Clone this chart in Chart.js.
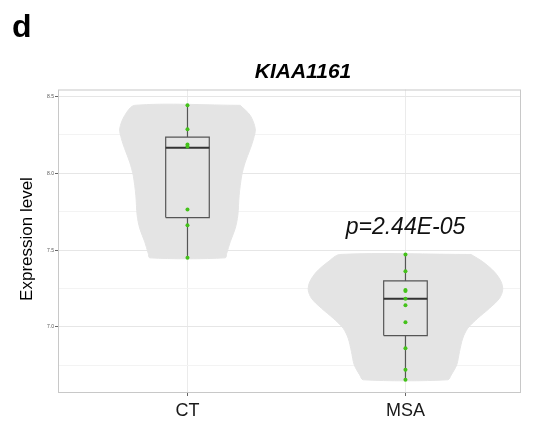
<!DOCTYPE html>
<html>
<head>
<meta charset="utf-8">
<script src="https://cdn.jsdelivr.net/npm/chart.js@4.4.1/dist/chart.umd.min.js"></script>
<style>
  html, body { margin: 0; padding: 0; background: #fff; }
  #wrap { position: relative; width: 537px; height: 423px; }
  #panel { position: absolute; left: 12px; top: 8px; font: bold 32px "Liberation Sans", Arial, sans-serif; color: #000; }
</style>
</head>
<body>
<div id="wrap">
  <canvas id="chart" width="537" height="423"></canvas>
  <div id="panel">d</div>
</div>
<script>
const categories = ['CT', 'MSA'];
const chartTitle = 'KIAA1161';
const yTitle = 'Expression level';
const yTicks = [6.75, 7.0, 7.25, 7.5, 7.75, 8.0, 8.25, 8.5];
const yMajor = [7.0, 7.5, 8.0, 8.5];

// expression values per group
const ctValues = [8.443, 8.288, 8.188, 8.175, 7.764, 7.662, 7.45];
const msaValues = [7.472, 7.362, 7.240, 7.234, 7.184, 7.141, 7.031, 6.862, 6.721, 6.656];

// box stats: lower whisker, q1, median, q3, upper whisker
const ctBox = [7.45, 7.712, 8.167, 8.236, 8.443];
const msaBox = [6.656, 6.944, 7.184, 7.30, 7.472];

// violin outline: levels and half widths
const ctViolinY = [8.443, 8.377, 8.290, 8.225, 8.160, 8.073, 7.987, 7.857, 7.727, 7.641, 7.554, 7.479, 7.45];
const ctViolinW = [0.242, 0.288, 0.311, 0.303, 0.288, 0.265, 0.249, 0.237, 0.231, 0.219, 0.196, 0.180, 0.173];
const msaViolinY = [7.472, 7.424, 7.359, 7.294, 7.240, 7.186, 7.121, 7.057, 6.992, 6.927, 6.840, 6.753, 6.688, 6.656];
const msaViolinW = [0.301, 0.355, 0.408, 0.439, 0.446, 0.431, 0.385, 0.332, 0.286, 0.263, 0.248, 0.235, 0.210, 0.194];

const pLabel = 'p=2.44E-05';
const pLabelY = 7.65;

const FONT = '"Liberation Sans", Arial, sans-serif';
const boxHalf = 0.1;

function violinPoints(cx, ys, ws) {
  const right = ys.map((y, i) => ({ x: cx + ws[i], y: y }));
  const left = ys.map((y, i) => ({ x: cx - ws[i], y: y })).reverse();
  return right.concat(left, [right[0]]);
}

function lineSet(data, color, width, order) {
  return {
    type: 'scatter', data: data, showLine: true, fill: false,
    borderColor: color, borderWidth: width, pointRadius: 0, tension: 0, order: order
  };
}

const groups = [
  { values: ctValues, box: ctBox, vy: ctViolinY, vw: ctViolinW },
  { values: msaValues, box: msaBox, vy: msaViolinY, vw: msaViolinW }
];

const datasets = [];
groups.forEach(function (g, i) {
  const cx = i + 1;
  datasets.push({
    type: 'scatter', data: violinPoints(cx, g.vy, g.vw), showLine: true, fill: 'shape',
    backgroundColor: '#e4e4e4', borderColor: '#e4e4e4', borderWidth: 1,
    pointRadius: 0, tension: 0.3, order: 5
  });
  const b = g.box;
  datasets.push(lineSet([{ x: cx, y: b[3] }, { x: cx, y: b[4] }], '#555', 1.2, 3));
  datasets.push(lineSet([{ x: cx, y: b[0] }, { x: cx, y: b[1] }], '#555', 1.2, 3));
  datasets.push(lineSet([
    { x: cx - boxHalf, y: b[1] }, { x: cx + boxHalf, y: b[1] },
    { x: cx + boxHalf, y: b[3] }, { x: cx - boxHalf, y: b[3] }, { x: cx - boxHalf, y: b[1] }
  ], '#555', 1.2, 3));
  datasets.push(lineSet([{ x: cx - boxHalf, y: b[2] }, { x: cx + boxHalf, y: b[2] }], '#333', 2, 2));
  datasets.push({
    type: 'scatter', data: g.values.map(v => ({ x: cx, y: v })),
    backgroundColor: '#44c21a', borderWidth: 0, pointRadius: 2, order: 1
  });
});

const textPlugin = {
  id: 'texts',
  afterDraw(chart) {
    const { ctx, chartArea, scales } = chart;
    ctx.save();
    ctx.strokeStyle = '#c8c8c8';
    ctx.lineWidth = 1;
    ctx.strokeRect(chartArea.left + 0.5, chartArea.top + 0.5, chartArea.width - 1, chartArea.height - 1);

    ctx.fillStyle = '#000';
    ctx.textAlign = 'center';
    ctx.textBaseline = 'alphabetic';
    ctx.font = 'italic bold 21px ' + FONT;
    ctx.fillText(chartTitle, 303, 78);

    ctx.font = '17px ' + FONT;
    ctx.textBaseline = 'middle';
    ctx.save();
    ctx.translate(27, 239);
    ctx.rotate(-Math.PI / 2);
    ctx.fillText(yTitle, 0, 0);
    ctx.restore();

    ctx.font = 'italic 23px ' + FONT;
    ctx.fillStyle = '#111';
    ctx.fillText(pLabel, scales.x.getPixelForValue(2), scales.y.getPixelForValue(pLabelY));
    ctx.restore();
  }
};

new Chart(document.getElementById('chart').getContext('2d'), {
  type: 'scatter',
  data: { datasets: datasets },
  plugins: [textPlugin],
  options: {
    responsive: false,
    animation: false,
    events: [],
    layout: { padding: { top: 89.5, right: 16, left: 0, bottom: 0 } },
    plugins: { legend: { display: false }, tooltip: { enabled: false }, title: { display: false } },
    scales: {
      x: {
        type: 'linear', min: 0.406, max: 2.53,
        afterBuildTicks: function (scale) { scale.ticks = categories.map((c, i) => ({ value: i + 1 })); },
        afterFit: function (scale) { scale.height = 30; },
        border: { display: false },
        grid: { color: '#ebebeb', tickLength: 3, tickColor: '#666' },
        ticks: {
          autoSkip: false, padding: 4, color: '#1a1a1a',
          font: { family: FONT, size: 18 },
          callback: function (v) { return categories[Math.round(v) - 1]; }
        }
      },
      y: {
        type: 'linear', min: 6.57, max: 8.546,
        afterBuildTicks: function (scale) { scale.ticks = yTicks.map(v => ({ value: v })); },
        afterFit: function (scale) { scale.width = 58; },
        border: { display: false },
        grid: {
          tickLength: 3,
          color: function (c) { return yMajor.includes(c.tick.value) ? '#e6e6e6' : '#f3f3f3'; },
          tickColor: function (c) { return yMajor.includes(c.tick.value) ? '#666' : 'rgba(0,0,0,0)'; }
        },
        ticks: {
          autoSkip: false, padding: 1, color: '#555',
          font: { family: FONT, size: 5 },
          callback: function (v) { return yMajor.includes(v) ? v.toFixed(1) : ''; }
        }
      }
    }
  }
});
</script>
</body>
</html>
